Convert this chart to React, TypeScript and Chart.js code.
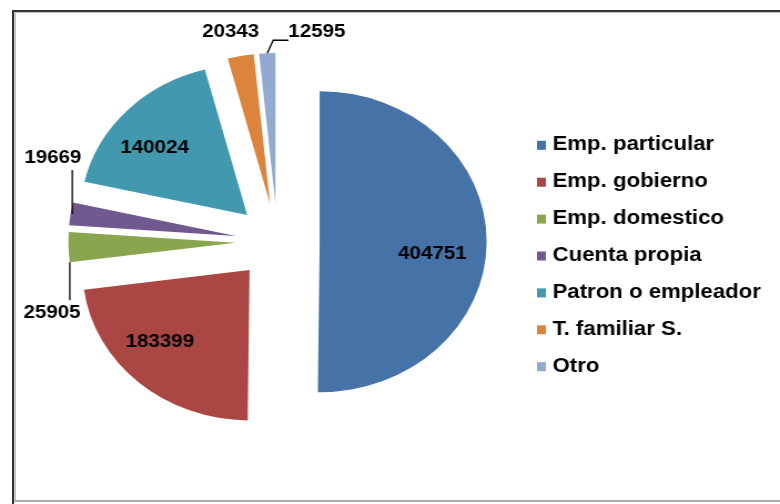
import React, { useEffect, useRef } from 'react';
import { Chart, registerables } from 'chart.js';

Chart.register(...registerables);

// ---- data ----
const categories = [
  'Emp. particular',
  'Emp. gobierno',
  'Emp. domestico',
  'Cuenta propia',
  'Patron o empleador',
  'T. familiar S.',
  'Otro',
];
const values = [404751, 183399, 25905, 19669, 140024, 20343, 12595];
const colors = ['#4572A7', '#AA4643', '#89A54E', '#71588F', '#4198AF', '#DB843D', '#93A9CF'];

// ---- layout (internal canvas units; canvas is stretched horizontally) ----
const CANVAS_W = 703;
const CANVAS_H = 504;
const EXPLODE = 38;
const FONT = '"Liberation Sans", Arial, sans-serif';
const DEG = Math.PI / 180;

type InSpec = { kind: 'in'; frac: number; dAngle: number };
type OutSpec = {
  kind: 'out';
  at: number;
  leader: number[][];
  text: number[];
  align: CanvasTextAlign;
};
const labelSpecs: (InSpec | OutSpec)[] = [
  { kind: 'in', frac: 0.68, dAngle: 6.6 },
  { kind: 'in', frac: 0.72, dAngle: 6.7 },
  { kind: 'out', at: 0, leader: [[0, 0], [0, 38]], text: [-16, 51], align: 'center' },
  { kind: 'out', at: 0.5, leader: [[1.5, 0], [1.5, -44]], text: [-16, -56], align: 'center' },
  { kind: 'in', frac: 0.71, dAngle: -5.4 },
  { kind: 'out', at: 0.5, leader: [], text: [-9, -24], align: 'center' },
  { kind: 'out', at: 0.5, leader: [[0, 0], [5.4, -13], [19, -13]], text: [19, -21], align: 'left' },
];

const explodePlugin = {
  id: 'explode',
  beforeDatasetDraw(chart: any, args: any) {
    const ctx = chart.ctx;
    args.meta.data.forEach((arc: any) => {
      const mid = (arc.startAngle + arc.endAngle) / 2;
      ctx.save();
      ctx.translate(Math.cos(mid) * EXPLODE, Math.sin(mid) * EXPLODE);
      arc.draw(ctx);
      ctx.restore();
    });
    return false;
  },
};

const labelPlugin = {
  id: 'pieLabels',
  afterDatasetsDraw(chart: any) {
    const ctx = chart.ctx;
    const meta = chart.getDatasetMeta(0);
    const data = chart.data.datasets[0].data as number[];
    ctx.save();
    ctx.font = `bold 18.5px ${FONT}`;
    ctx.fillStyle = '#000';
    ctx.strokeStyle = '#000';
    ctx.lineWidth = 1.3;
    ctx.textBaseline = 'middle';
    meta.data.forEach((arc: any, i: number) => {
      const spec = labelSpecs[i];
      const mid = (arc.startAngle + arc.endAngle) / 2;
      const ax = arc.x + Math.cos(mid) * EXPLODE;
      const ay = arc.y + Math.sin(mid) * EXPLODE;
      const R = arc.outerRadius;
      const txt = String(data[i]);
      if (spec.kind === 'in') {
        const a = mid + spec.dAngle * DEG;
        ctx.textAlign = 'center';
        ctx.fillText(txt, ax + Math.cos(a) * R * spec.frac, ay + Math.sin(a) * R * spec.frac);
      } else {
        const a = arc.startAngle + (arc.endAngle - arc.startAngle) * spec.at;
        const px = ax + Math.cos(a) * R;
        const py = ay + Math.sin(a) * R;
        if (spec.leader.length) {
          ctx.beginPath();
          spec.leader.forEach((p, k) => {
            if (k === 0) ctx.moveTo(px + p[0], py + p[1]);
            else ctx.lineTo(px + p[0], py + p[1]);
          });
          ctx.stroke();
        }
        ctx.textAlign = spec.align;
        ctx.fillText(txt, px + spec.text[0], py + spec.text[1]);
      }
    });
    ctx.restore();
  },
};

const legendPlugin = {
  id: 'sideLegend',
  afterDraw(chart: any) {
    const ctx = chart.ctx;
    const labels = chart.data.labels as string[];
    const bg = chart.data.datasets[0].backgroundColor as string[];
    const x0 = 484;
    const y0 = 144.8;
    const step = 36.9;
    ctx.save();
    ctx.font = `bold 20px ${FONT}`;
    ctx.textBaseline = 'middle';
    ctx.textAlign = 'left';
    labels.forEach((lab, i) => {
      const y = y0 + i * step;
      ctx.fillStyle = bg[i];
      ctx.fillRect(x0, y - 4, 8, 9);
      ctx.fillStyle = '#000';
      ctx.fillText(lab, x0 + 14, y);
    });
    ctx.restore();
  },
};

export default function App() {
  const ref = useRef<HTMLCanvasElement | null>(null);

  useEffect(() => {
    if (!ref.current) return;
    const chart = new Chart(ref.current, {
      type: 'pie',
      data: {
        labels: categories,
        datasets: [
          {
            data: values,
            backgroundColor: colors,
            borderWidth: 0,
            offset: 0,
            hoverOffset: 0,
          },
        ],
      },
      options: {
        responsive: false,
        animation: false,
        devicePixelRatio: 1,
        radius: 150.5,
        events: [],
        layout: { padding: { left: 0, right: 202.8, top: 0, bottom: 21 } },
        plugins: {
          legend: { display: false },
          tooltip: { enabled: false },
        },
      } as any,
      plugins: [explodePlugin, labelPlugin, legendPlugin],
    });
    return () => chart.destroy();
  }, []);

  return (
    <div
      style={{
        position: 'fixed',
        left: 0,
        top: 0,
        width: 780,
        height: 504,
        overflow: 'hidden',
        background: '#fff',
      }}
    >
      <div
        style={{
          position: 'absolute',
          left: 12,
          top: 10,
          width: 800,
          height: 520,
          borderTop: '2px solid #333',
          borderLeft: '2px solid #333',
          boxSizing: 'border-box',
        }}
      />
      <div
        style={{
          position: 'absolute',
          left: 14,
          top: 12,
          width: 800,
          height: 490,
          borderTop: '1px solid #c4c4c4',
          borderLeft: '2px solid #c4c4c4',
          borderBottom: '2px solid #ababab',
          boxSizing: 'border-box',
        }}
      />
      <canvas
        ref={ref}
        width={CANVAS_W}
        height={CANVAS_H}
        style={{ position: 'absolute', left: 0, top: 0, width: 780, height: 504 }}
      />
    </div>
  );
}
